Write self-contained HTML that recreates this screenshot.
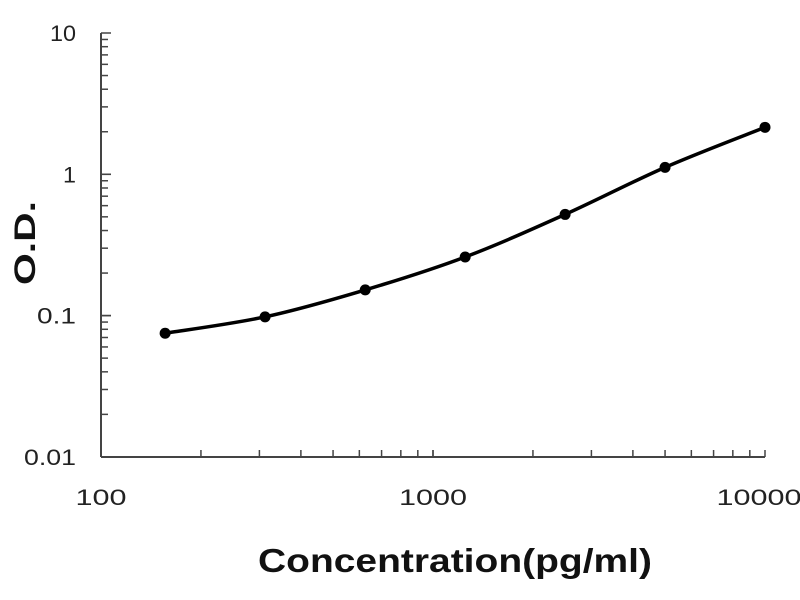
<!DOCTYPE html>
<html><head><style>
body{margin:0;background:#fff;}
svg{display:block;}
text{font-family:"Liberation Sans",sans-serif;fill:#222;}
</style></head><body>
<svg id="s" width="800" height="600" xmlns="http://www.w3.org/2000/svg">
<text x="258" y="572" font-size="33" font-weight="bold" textLength="394" lengthAdjust="spacingAndGlyphs" style="fill:#111">Concentration(pg/ml)</text>
<text transform="translate(35,243) rotate(-90)" text-anchor="middle" font-size="30" font-weight="bold" textLength="84" lengthAdjust="spacingAndGlyphs" style="fill:#111">O.D.</text>
</svg>
<script>
var s=document.getElementById('s'),NS='http://www.w3.org/2000/svg';
function el(t,a,txt){var e=document.createElementNS(NS,t);for(var k in a)e.setAttribute(k,a[k]);if(txt)e.textContent=txt;s.appendChild(e);return e;}
var X0=101,XD=332,Y0=33,YD=141.3;
function px(v){return X0+(Math.log10(v)-2)*XD;}
function py(v){return Y0+(1-Math.log10(v))*YD;}
el('line',{x1:X0,y1:Y0,x2:X0,y2:457,stroke:'#444','stroke-width':2});
el('line',{x1:X0,y1:457,x2:765,y2:457,stroke:'#444','stroke-width':2});
for(var d=-2;d<=0;d++)for(var m=1;m<=10;m++){var y=py(m*Math.pow(10,d));el('line',{x1:X0,y1:y,x2:X0+(m==1||m==10?10:7),y2:y,stroke:'#444','stroke-width':1.5});}
for(var d=2;d<=3;d++)for(var m=1;m<=10;m++){var x=px(m*Math.pow(10,d));el('line',{x1:x,y1:457,x2:x,y2:450,stroke:'#444','stroke-width':1.5});}
[['10',10],['1',1],['0.1',0.1],['0.01',0.01]].forEach(function(t){var w=t[0].length*13;el('text',{x:76-w,y:py(t[1])+8,'font-size':22,textLength:w,lengthAdjust:'spacingAndGlyphs'},t[0]);});
[['100',100],['1000',1000],['10000',10000]].forEach(function(t){var w=t[0].length*17;el('text',{x:px(t[1])-w/2+(t[1]==10000?-6:0),y:505,'font-size':22,textLength:w,lengthAdjust:'spacingAndGlyphs'},t[0]);});
var d=[[156,0.075],[312,0.098],[625,0.152],[1250,0.26],[2500,0.52],[5000,1.12],[10000,2.15]];
var p=d.map(function(q){return [px(q[0]),py(q[1])];});
var path='M'+p[0][0]+','+p[0][1];
for(var i=0;i<p.length-1;i++){var a=p[i-1]||p[i],b=p[i],c=p[i+1],e=p[i+2]||c;
path+=' C'+(b[0]+(c[0]-a[0])/6)+','+(b[1]+(c[1]-a[1])/6)+' '+(c[0]-(e[0]-b[0])/6)+','+(c[1]-(e[1]-b[1])/6)+' '+c[0]+','+c[1];}
el('path',{d:path,fill:'none',stroke:'#000','stroke-width':3.5});
p.forEach(function(q){el('circle',{cx:q[0],cy:q[1],r:5.5,fill:'#000'});});
</script>
</body></html>
